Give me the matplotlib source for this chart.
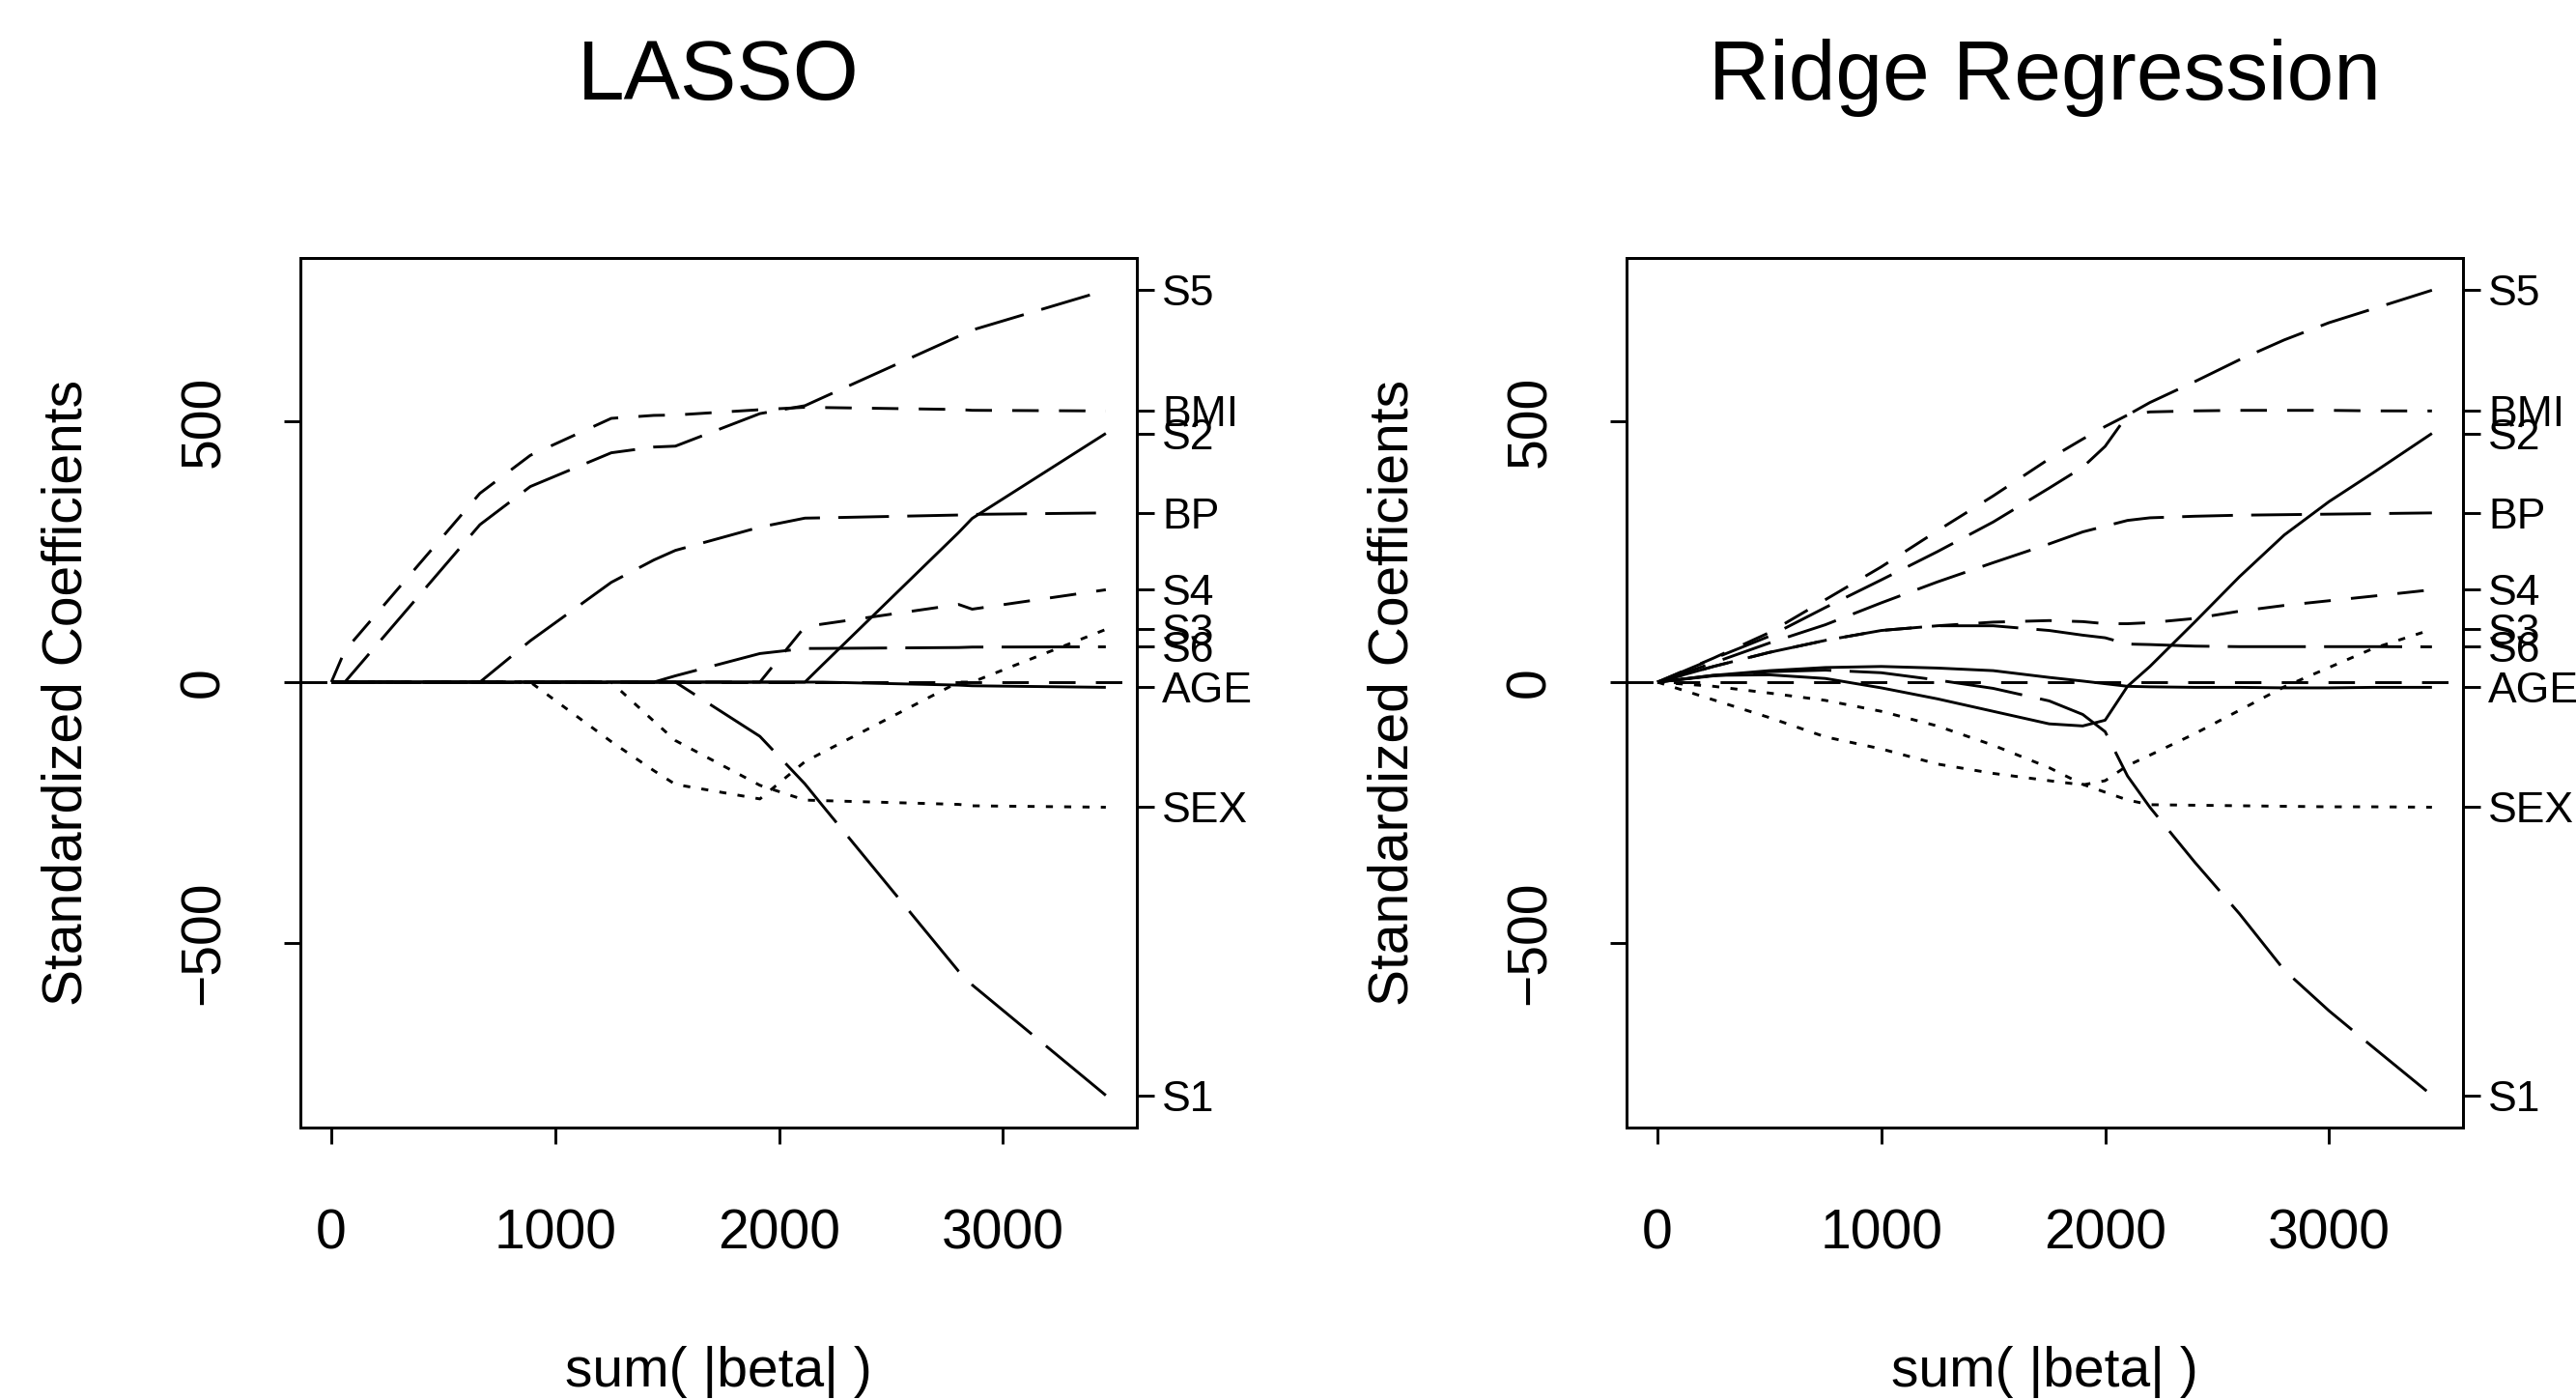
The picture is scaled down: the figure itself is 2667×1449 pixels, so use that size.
import numpy as np
import matplotlib
matplotlib.use("Agg")
import matplotlib.pyplot as plt

plt.rcParams['font.family'] = ['Liberation Sans', 'DejaVu Sans']

names = ["AGE", "SEX", "BMI", "BP", "S1", "S2", "S3", "S4", "S5", "S6"]

# lasso path, one value per LARS step
lasso_age = [0, 0, 0, 0, 0, 0, 0, 0, 0, 0, -5.72, -7.01, -10.01]
lasso_sex = [0, 0, 0, 0, 0, -74.92, -111.98, -197.76, -226.13, -227.18, -234.40, -237.10, -239.82]
lasso_bmi = [0, 60.12, 361.89, 434.76, 505.66, 511.35, 512.04, 522.26, 526.89, 526.39, 522.65, 521.08, 519.84]
lasso_bp = [0, 0, 0, 79.24, 191.27, 234.15, 252.53, 297.16, 314.39, 314.95, 320.34, 321.55, 324.39]
lasso_s1 = [0, 0, 0, 0, 0, 0, 0, -103.95, -195.11, -237.34, -554.27, -580.44, -792.18]
lasso_s2 = [0, 0, 0, 0, 0, 0, 0, 0, 0, 33.63, 286.74, 313.86, 476.75]
lasso_s3 = [0, 0, 0, 0, -114.10, -169.71, -196.05, -223.93, -152.48, -134.60, 0, 0, 101.04]
lasso_s4 = [0, 0, 0, 0, 0, 0, 0, 0, 106.34, 111.38, 148.90, 139.86, 177.06]
lasso_s5 = [0, 0, 301.78, 374.92, 439.66, 450.67, 452.39, 514.75, 529.92, 545.48, 663.03, 674.94, 751.28]
lasso_s6 = [0, 0, 0, 0, 0, 0, 12.08, 54.77, 64.49, 64.61, 66.33, 67.18, 67.63]

ridge_x = [0, 250, 500, 750, 1000, 1250, 1500, 1750, 1900, 2000, 2100, 2200, 2400, 2600, 2800, 3000, 3200, 3460]
ridge_age = [0, 13, 22, 28, 30, 27, 22, 9, 2, -3, -8, -9, -10, -10, -11, -11, -10, -10.01]
ridge_sex = [0, -8, -21, -35, -56, -84, -121, -164, -196, -211, -226, -235, -236, -237, -238, -239, -239, -239.82]
ridge_bmi = [0, 46, 95, 158, 221, 290, 357, 428, 466, 490, 512, 518, 520, 521, 521, 521, 520, 519.84]
ridge_bp = [0, 37, 75, 110, 152, 192, 229, 265, 288, 299, 310, 315, 318, 320, 321, 322, 323, 324.39]
ridge_s1 = [0, 12, 20, 23, 18, 4, -12, -36, -62, -95, -180, -240, -345, -444, -552, -630, -701, -792.18]
ridge_s2 = [0, 13, 14, 7, -11, -32, -56, -80, -84, -73, -8, 30, 115, 202, 282, 346, 402, 476.75]
ridge_s3 = [0, -34, -68, -105, -128, -157, -175, -189, -197, -189, -160, -140, -99, -54, -9, 28, 65, 101.04]
ridge_s4 = [0, 30, 57, 80, 99, 108, 115, 118, 116, 112, 112, 114, 122, 136, 147, 156, 165, 177.06]
ridge_s5 = [0, 45, 88, 143, 196, 250, 307, 372, 412, 452, 512, 536, 576, 618, 656, 689, 716, 751.28]
ridge_s6 = [0, 30, 57, 80, 99, 108, 108, 99, 90, 85, 73, 72, 69, 68, 68, 68, 68, 67.63]

x_ticks = [0, 1000, 2000, 3000]
y_ticks = [-500, 0, 500]

lasso = np.array([lasso_age, lasso_sex, lasso_bmi, lasso_bp, lasso_s1,
                  lasso_s2, lasso_s3, lasso_s4, lasso_s5, lasso_s6])
lasso_x = np.abs(lasso).sum(axis=0)
ridge = np.array([ridge_age, ridge_sex, ridge_bmi, ridge_bp, ridge_s1,
                  ridge_s2, ridge_s3, ridge_s4, ridge_s5, ridge_s6])

# line types cycle over the 10 variables
solid = '-'
dotted = (0, (2.5, 4))
dashed = (0, (9.4, 7.2))
longdash = (0, (18, 6.5))
longerdash = (0, (27.7, 6.5))
styles = [solid, dotted, dashed, longdash, longerdash] * 2

LW = 2.1
FS = 41

fig = plt.figure(figsize=(26.67, 14.49), dpi=100)
ax1 = fig.add_axes([0.1166, 0.1946, 0.3247, 0.6211])
ax2 = fig.add_axes([0.6314, 0.1946, 0.3247, 0.6211])


def draw(ax, xs, coefs, title):
    for i in range(len(names)):
        ax.plot(xs, coefs[i], color='black', lw=LW, linestyle=styles[i],
                solid_capstyle='butt')
    ax.margins(0.04)
    ax.axhline(0, color='black', lw=LW, linestyle=dashed)
    ax.set_xticks(x_ticks)
    ax.set_yticks(y_ticks)
    ax.tick_params(axis='x', direction='out', length=12, width=LW,
                   labelsize=FS, pad=48)
    ax.tick_params(axis='y', direction='out', length=12, width=LW,
                   labelsize=FS, pad=40, labelrotation=90)
    for lab in ax.get_yticklabels():
        lab.set_va('center')
    for sp in ax.spines.values():
        sp.set_linewidth(LW)
    ax.set_xlabel("sum( |beta| )", fontsize=FS, va='baseline')
    ax.xaxis.set_label_coords(0.5, -0.2978)
    ax.set_ylabel("Standardized Coefficients", fontsize=FS, va='center')
    ax.yaxis.set_label_coords(-0.279, 0.5)
    ax.set_title(title, fontsize=63, y=1.1822, pad=0, va='baseline')

    # variable names at the right, at the final coefficients
    tw = ax.twinx()
    tw.set_ylim(ax.get_ylim())
    tw.set_yticks(coefs[:, -1], names)
    tw.tick_params(axis='y', direction='out', length=13, width=LW,
                   labelsize=32, pad=6)
    for sp in tw.spines.values():
        sp.set_linewidth(LW)


draw(ax1, lasso_x, lasso, "LASSO")
draw(ax2, ridge_x, ridge, "Ridge Regression")

fig.savefig("out.png", dpi=100)
